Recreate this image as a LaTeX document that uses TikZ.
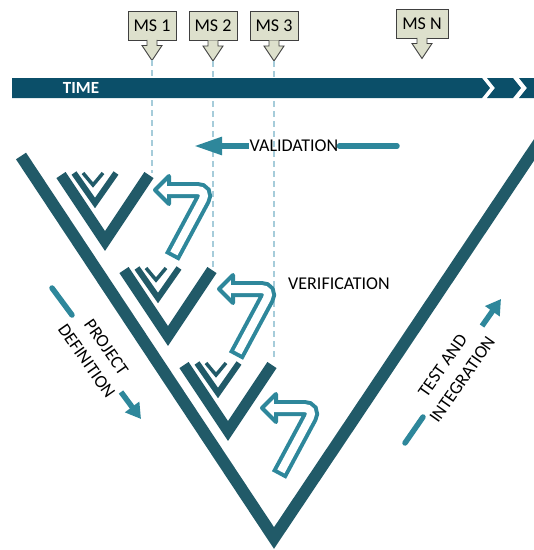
\documentclass[tikz,border=0pt]{standalone}
\usepackage{fontspec}
\setmainfont{Carlito}
\usetikzlibrary{arrows.meta,calc}

\definecolor{timebar}{HTML}{0B4F69}
\definecolor{vdark}{HTML}{215A68}
\definecolor{vlight}{HTML}{2E879B}
\definecolor{dashblue}{HTML}{A6CCDA}
\definecolor{msfill}{HTML}{DDE0CC}
\definecolor{msline}{HTML}{404040}

\tikzset{
  lbl/.style={font=\fontsize{18}{24}\selectfont, inner sep=1pt},
  msbox/.style={lbl, fill=msfill, draw=msline, line width=0.9pt,
    minimum width=48pt, minimum height=29pt, inner xsep=5pt},
  mspointer/.style={fill=msfill, draw=msline, line width=0.9pt, line join=miter},
  msdash/.style={dashblue, line width=1.1pt, dash pattern=on 6pt off 4pt},
  bigvee/.style={vdark, line width=12pt, line join=miter},
  midvee/.style={vdark, line width=6pt, line join=miter},
  tinyvee/.style={vdark, line width=3.5pt, line join=miter},
  flowline/.style={vlight, line width=5.5pt},
}

\begin{document}
\begin{tikzpicture}[x=1pt, y=-1pt]
    \useasboundingbox (0,0) rectangle (534,550);
    \clip (0,0) rectangle (534,550);

    % milestones
    \node[msbox] (ms1) at (152,25.5) {MS 1};
    \node[msbox] (ms2) at (213,26) {MS 2};
    \node[msbox] (ms3) at (274,26) {MS 3};
    \node[msbox, minimum width=52pt] (msn) at (422,23.5) {MS N};
    \foreach \ms in {ms1,ms2,ms3,msn}
        \filldraw[mspointer] ($(\ms.south)+(-5,-0.6)$) -- ++(0,5.6) -- ++(-5,0)
            -- ($(\ms.south)+(0,20)$) -- ($(\ms.south)+(10,5)$) -- ++(-5,0) -- ++(0,-5.6);

    \coordinate (d1end) at (152,173);
    \coordinate (d2end) at (213,268);
    \coordinate (d3end) at (274,357);
    \draw[msdash] ($(ms1.south)+(0,20)$) -- (d1end);
    \draw[msdash] ($(ms2.south)+(0,20)$) -- (d2end);
    \draw[msdash] ($(ms3.south)+(0,20)$) -- (d3end);

    % time line
    \fill[timebar] (12,78) -- (482,78) -- (490,88) -- (482,98) -- (12,98) -- cycle;
    \fill[timebar] (487,78) -- (513,78) -- (521,88) -- (513,98) -- (487,98) -- (495,88) -- cycle;
    \fill[timebar] (519,78) -- (545,78) -- (553,88) -- (545,98) -- (519,98) -- (527,88) -- cycle;
    \node[lbl, text=white, font=\fontsize{17}{20}\selectfont\bfseries] (time) at (81,88) {TIME};

    % validation
    \node[lbl] (valid) at (294,146) {VALIDATION};
    \coordinate (validtip) at (194,146);
    \coordinate (validend) at (397,146);
    \draw[flowline, -{Triangle[length=28pt, width=17pt]}] (valid.west) -- (validtip);
    \draw[flowline, line cap=round] (valid.east) -- (validend);

    \node[lbl, anchor=west] (verif) at (287,284) {VERIFICATION};

    % the big V
    \draw[bigvee] (21,156) -- (274,538) -- (540,141);

    % nested Vs
    \foreach \vx/\vy in {105/241, 168/336, 228/431} {
        \draw[vdark, line width=11pt, line join=miter] (\vx-44,\vy-66) -- (\vx,\vy) -- (\vx+44,\vy-66);
        \draw[midvee] (\vx-31,\vy-68) -- (\vx-10,\vy-38) -- (\vx+11,\vy-68);
        \draw[tinyvee] (\vx-22,\vy-68) -- (\vx-12,\vy-56) -- (\vx-2,\vy-68);
    }

    % verification loops
    \foreach \sx/\sy in {0/0, 64/99, 107/218} {
        \begin{scope}[shift={(\sx,\sy)}]
            \draw[vlight, line width=16pt, rounded corners=11pt] (172,257) -- (208,190) -- (168,190);
            \filldraw[vlight, fill=white, line width=4pt, line join=round]
                (155,190) -- (169,176) -- (169,204) -- cycle;
            \draw[white, line width=8pt, rounded corners=11pt]
                ($(172,257)!4pt!(208,190)$) -- (208,190) -- (166.5,190);
        \end{scope}
    }

    % project definition
    \node[lbl, rotate=-55, align=center] (projdef) at (96.5,354) {PROJECT\\DEFINITION};
    \coordinate (pdstart) at (52,288);
    \coordinate (pdgapa) at (72,315);
    \coordinate (pdgapb) at (121,392);
    \coordinate (pdtip) at (141,419);
    \draw[flowline, line cap=round] (pdstart) -- (pdgapa);
    \draw[flowline, -{Triangle[length=15pt, width=17pt]}] (pdgapb) -- (pdtip);

    % test and integration
    \node[lbl, rotate=55, align=center] (testint) at (452.5,372.5) {TEST AND\\INTEGRATION};
    \coordinate (tistart) at (405,443);
    \coordinate (tigapa) at (423,417);
    \coordinate (tigapb) at (482,326);
    \coordinate (titip) at (501,299);
    \draw[flowline, line cap=round] (tistart) -- (tigapa);
    \draw[flowline, -{Triangle[length=15pt, width=17pt]}] (tigapb) -- (titip);
\end{tikzpicture}
\end{document}
